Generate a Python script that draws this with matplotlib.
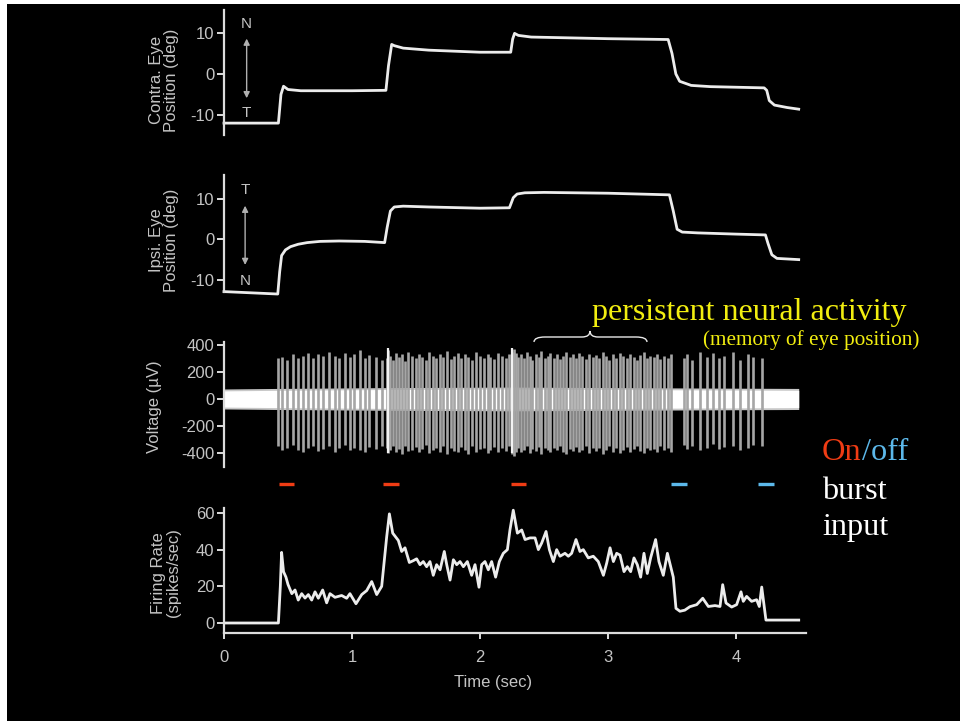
import matplotlib
matplotlib.use("Agg")
import matplotlib.pyplot as plt
from matplotlib.patches import Rectangle, PathPatch
from matplotlib.path import Path
from matplotlib.text import Annotation
from matplotlib.transforms import blended_transform_factory

plt.rcParams['font.family'] = ['Liberation Sans', 'DejaVu Sans']
plt.rcParams['axes.unicode_minus'] = False

# contralateral eye position (deg)
contra_t = [0, 0.425, 0.445, 0.465, 0.50, 0.60, 1.0, 1.265, 1.285, 1.31, 1.33, 1.40, 1.6, 2.0,
            2.24, 2.255, 2.27, 2.30, 2.40, 3.0, 3.47, 3.50, 3.53, 3.56, 3.65, 3.8, 4.22, 4.24,
            4.26, 4.30, 4.40, 4.49]
contra_deg = [-12.0, -12.0, -5.0, -3.0, -3.8, -4.1, -4.1, -4.0, 2.0, 7.2, 6.9, 6.3, 5.8, 5.3,
              5.3, 8.5, 9.9, 9.4, 9.0, 8.6, 8.4, 5.0, 0.0, -1.8, -2.8, -3.1, -3.4, -4.0,
              -6.5, -7.6, -8.2, -8.6]

# ipsilateral eye position (deg)
ipsi_t = [0, 0.42, 0.435, 0.45, 0.48, 0.52, 0.58, 0.65, 0.75, 0.9, 1.1, 1.255, 1.275, 1.30,
          1.33, 1.40, 1.6, 2.0, 2.23, 2.26, 2.29, 2.35, 2.5, 3.0, 3.48, 3.51, 3.54, 3.58,
          3.7, 4.0, 4.23, 4.25, 4.28, 4.32, 4.49]
ipsi_deg = [-12.9, -13.5, -8.0, -4.0, -2.6, -1.8, -1.2, -0.8, -0.5, -0.4, -0.5, -0.8, 3.0, 7.0,
            8.0, 8.2, 8.0, 7.7, 7.8, 10.3, 11.2, 11.5, 11.6, 11.4, 11.0, 7.0, 2.5, 1.8,
            1.6, 1.3, 1.1, -1.0, -3.8, -4.7, -5.0]

# extracellular recording: background noise band and spikes (uV)
noise_t = [0, 0.42, 1.27, 2.25, 3.5, 4.49]
noise_halfwidth = [60, 64, 70, 74, 68, 64]

spike_t = [0.424, 0.451, 0.490, 0.541, 0.580, 0.620, 0.659, 0.698, 0.737, 0.776, 0.823,
           0.867, 0.901, 0.945, 0.984, 1.016, 1.063, 1.102, 1.135, 1.188, 1.232,
           1.27, 1.285, 1.30, 1.32, 1.345, 1.37, 1.39, 1.415, 1.44, 1.47,
           1.50, 1.52, 1.55, 1.58, 1.60, 1.63, 1.66, 1.69, 1.71, 1.74,
           1.77, 1.80, 1.83, 1.85, 1.88, 1.91, 1.94, 1.97, 2.00, 2.03,
           2.06, 2.08, 2.11, 2.14, 2.17, 2.20, 2.23, 2.25, 2.265, 2.28,
           2.30, 2.32, 2.345, 2.37, 2.39, 2.41, 2.435, 2.46, 2.48, 2.505,
           2.53, 2.55, 2.575, 2.60, 2.625, 2.65, 2.67, 2.70, 2.725, 2.75,
           2.775, 2.80, 2.83, 2.855, 2.88, 2.905, 2.93, 2.96, 2.985, 3.01,
           3.04, 3.065, 3.09, 3.12, 3.145, 3.17, 3.20, 3.225, 3.25, 3.28,
           3.305, 3.33, 3.36, 3.385, 3.41, 3.44, 3.465, 3.49,
           3.59, 3.62, 3.66, 3.72, 3.77, 3.82, 3.87, 3.91, 3.98, 4.03, 4.09, 4.13, 4.20]
spike_up = [300, 310, 290, 330, 300, 320, 340, 305, 330, 315, 350, 320, 300, 340, 310, 330,
            360, 300, 325, 310, 290,
            300, 360, 320, 290, 340, 310, 330, 280, 350, 320,
            300, 335, 310, 290, 345, 320, 300, 330, 310, 355,
            295, 320, 340, 305, 330, 310, 290, 345, 320, 300,
            335, 310, 295, 340, 320, 305, 330, 350, 370, 340,
            310, 330, 300, 345, 320, 290, 335, 310, 355, 300,
            320, 340, 305, 330, 295, 315, 345, 310, 330, 300,
            340, 320, 295, 335, 310, 325, 300, 345, 315, 290,
            330, 305, 340, 320, 300, 335, 310, 290, 325, 345,
            300, 320, 310, 335, 295, 320, 305, 330,
            300, 330, 290, 350, 310, 340, 300, 320, 350, 290, 330, 310, 300]
spike_down = [-350, -380, -360, -340, -375, -390, -360, -345, -385, -370, -350, -395, -365,
              -340, -380, -360, -375, -390, -355, -370, -345,
              -360, -400, -380, -350, -390, -370, -410, -345, -385, -375,
              -355, -395, -370, -340, -400, -380, -360, -390, -350, -405,
              -365, -385, -395, -355, -375, -410, -345, -390, -370, -360,
              -400, -380, -355, -395, -365, -385, -350, -405, -420, -390,
              -360, -395, -375, -350, -400, -370, -385, -355, -410, -365,
              -380, -395, -360, -375, -345, -390, -405, -370, -385, -355,
              -395, -375, -350, -400, -365, -385, -360, -405, -375, -345,
              -390, -365, -400, -380, -355, -395, -370, -345, -385, -400,
              -360, -380, -370, -395, -350, -375, -365, -390,
              -340, -370, -350, -380, -360, -330, -370, -355, -345, -375, -360, -340, -350]
bright_spike_t = [1.28, 2.25]

# smoothed firing rate (spikes/sec)
rate_t = [0, 0.425, 0.44, 0.45, 0.465, 0.484, 0.50, 0.53, 0.555, 0.58, 0.607, 0.633, 0.659,
          0.685, 0.711, 0.737, 0.771, 0.802, 0.828, 0.867, 0.919, 0.958, 0.984, 1.031, 1.076,
          1.115, 1.154, 1.193, 1.232, 1.271, 1.292, 1.318, 1.34, 1.362, 1.388, 1.414, 1.448,
          1.479, 1.505, 1.531, 1.557, 1.583, 1.609, 1.635, 1.661, 1.688, 1.721, 1.740, 1.766,
          1.792, 1.818, 1.844, 1.870, 1.901, 1.935, 1.961, 1.992, 2.013, 2.039, 2.065, 2.091,
          2.122, 2.151, 2.182, 2.214, 2.234, 2.260, 2.292, 2.326, 2.352, 2.391, 2.43, 2.456,
          2.482, 2.516, 2.542, 2.573, 2.599, 2.625, 2.664, 2.69, 2.716, 2.750, 2.781, 2.807,
          2.846, 2.885, 2.924, 2.964, 2.990, 3.016, 3.042, 3.068, 3.094, 3.125, 3.151, 3.177,
          3.203, 3.229, 3.255, 3.281, 3.307, 3.333, 3.372, 3.398, 3.432, 3.464, 3.49, 3.51,
          3.531, 3.562, 3.60, 3.64, 3.693, 3.74, 3.784, 3.836, 3.875, 3.896, 3.922, 3.966,
          4.005, 4.039, 4.057, 4.083, 4.122, 4.161, 4.182, 4.201, 4.234, 4.49]
rate_hz = [0, 0, 20, 38.5, 28, 25, 21, 16, 18, 12.5, 16, 13.6, 15.5,
           12.5, 17, 13.5, 18, 11, 16, 14, 15, 13.5, 16, 10.5, 15.5,
           17.7, 22.6, 15.5, 20, 47, 59.5, 49, 47, 45, 39, 41, 33,
           34, 35, 31.8, 33.5, 30.7, 33.5, 26, 31.8, 29, 39, 31.8, 23.4,
           34.5, 31.8, 33.5, 30.7, 33.5, 26, 31.8, 19.5, 31.8, 33.5, 29, 33.5,
           25, 33.5, 38, 40, 50.7, 61.5, 49, 50.7, 45.5, 46.4, 46.4, 40,
           43.6, 49.9, 40, 33.5, 40, 36.4, 38, 36.4, 38, 45.5, 39, 40,
           35.5, 36.4, 33.5, 26, 32.7, 41, 33.5, 38, 37, 28, 30.7, 28,
           35.5, 31.8, 25, 38, 27, 35.5, 45.5, 33.5, 26, 38, 30.7, 25,
           8, 6.4, 7, 8.9, 10, 13.5, 9, 9.5, 9, 20.9, 10.9, 8.7,
           10, 17, 11.8, 14.5, 11.8, 12.7, 9, 19.6, 1.6, 1.6]

# burst input intervals (sec)
on_bursts = [(0.43, 0.55), (1.24, 1.37), (2.24, 2.36)]
off_bursts = [(3.49, 3.62), (4.17, 4.30)]

W, H = 960, 721
fig = plt.figure(figsize=(W / 100, H / 100), dpi=100, facecolor='white')
fig.patches.append(Rectangle((7 / W, 0), 1 - 7 / W, 1 - 4 / H, transform=fig.transFigure,
                             facecolor='black', edgecolor='none', zorder=-10))

fg = '#dcdcdc'
tick_col = '#c4c4c4'
trace_col = '#ececec'
x_left, x_right = 224, 806.4


def make_axes(top, bottom):
    ax = fig.add_axes([x_left / W, 1 - bottom / H, (x_right - x_left) / W, (bottom - top) / H])
    ax.set_facecolor('none')
    ax.set_xlim(0, 4.55)
    for side in ['top', 'right', 'bottom']:
        ax.spines[side].set_visible(False)
    ax.spines['left'].set_color(fg)
    ax.spines['left'].set_linewidth(1.6)
    ax.tick_params(axis='y', colors=fg, labelcolor=tick_col, labelsize=12, length=5,
                   width=1.4, pad=2)
    ax.tick_params(axis='x', bottom=False, labelbottom=False)
    return ax


def ylabel(text, cx, cy):
    fig.text(cx / W, 1 - cy / H, text, rotation=90, ha='center', va='center',
             multialignment='center', color=tick_col, fontsize=12, linespacing=1.05)


# contralateral eye
ax1 = make_axes(10, 135)
ax1.set_ylim(-14.9, 15.6)
ax1.set_yticks([-10, 0, 10])
ax1.plot(contra_t, contra_deg, color=trace_col, lw=2, clip_on=False)
ax1.annotate('', xy=(0.177, -6.6), xytext=(0.177, 9.3),
             arrowprops=dict(arrowstyle='<|-|>', color='#b0b0b0', lw=1, mutation_scale=9))
ax1.text(0.177, 12.3, 'N', ha='center', va='center', color=tick_col, fontsize=11)
ax1.text(0.177, -9.6, 'T', ha='center', va='center', color=tick_col, fontsize=11)
ylabel('Contra. Eye\nPosition (deg)', 164, 80)

# ipsilateral eye
ax2 = make_axes(175, 292)
ax2.set_ylim(-13.0, 15.9)
ax2.set_yticks([-10, 0, 10])
ax2.plot(ipsi_t, ipsi_deg, color=trace_col, lw=2, clip_on=False)
ax2.annotate('', xy=(0.165, -7.0), xytext=(0.165, 9.0),
             arrowprops=dict(arrowstyle='<|-|>', color='#b0b0b0', lw=1, mutation_scale=9))
ax2.text(0.165, 12.2, 'T', ha='center', va='center', color=tick_col, fontsize=11)
ax2.text(0.165, -10.2, 'N', ha='center', va='center', color=tick_col, fontsize=11)
ylabel('Ipsi. Eye\nPosition (deg)', 164, 240)

# voltage trace
ax3 = make_axes(342, 467)
ax3.set_ylim(-504, 422)
ax3.set_yticks([-400, -200, 0, 200, 400])
ax3.vlines(spike_t, spike_down, spike_up, color='#a6a6a6', lw=1.9)
ax3.vlines(bright_spike_t, -400, 380, color='#f2f2f2', lw=1.6)
ax3.fill_between(noise_t, [-h - 14 for h in noise_halfwidth], [h + 14 for h in noise_halfwidth],
                 color='#c8c8c8', lw=0)
ax3.fill_between(noise_t, [-h for h in noise_halfwidth], noise_halfwidth, color='white', lw=0)
ylabel('Voltage (\u00b5V)', 154, 407)

# firing rate
ax4 = make_axes(508, 633)
ax4.set_ylim(-5.45, 62.7)
ax4.set_yticks([0, 20, 40, 60])
ax4.spines['bottom'].set_visible(True)
ax4.spines['bottom'].set_color(fg)
ax4.spines['bottom'].set_linewidth(1.6)
ax4.set_xticks([0, 1, 2, 3, 4])
ax4.tick_params(axis='x', bottom=True, labelbottom=True, colors=fg, labelcolor=tick_col,
                labelsize=12, length=4, width=1.4, pad=8)
ax4.plot(rate_t, rate_hz, color=trace_col, lw=2)
ylabel('Firing Rate\n(spikes/sec)', 166, 573)
fig.text(493 / W, 1 - 682 / H, 'Time (sec)', ha='center', va='center', color=tick_col,
         fontsize=12)

# burst input markers above the rate panel
bar_tf = blended_transform_factory(ax4.transData, fig.transFigure)
for t0, t1 in on_bursts:
    ax4.plot([t0, t1], [1 - 484 / H] * 2, color='#f03c14', lw=2.4, transform=bar_tf,
             clip_on=False, solid_capstyle='butt')
for t0, t1 in off_bursts:
    ax4.plot([t0, t1], [1 - 484 / H] * 2, color='#5cb8ea', lw=2.4, transform=bar_tf,
             clip_on=False, solid_capstyle='butt')

# annotations
serif = ['Liberation Serif', 'DejaVu Serif']
yellow = '#f2ee10'
fig.text(592 / W, 1 - 320 / H, 'persistent neural activity', color=yellow, fontsize=23,
         family=serif, va='baseline')
fig.text(703 / W, 1 - 345 / H, '(memory of eye position)', color=yellow, fontsize=15.3,
         family=serif, va='baseline')

brace_px = [(534, 342), (534, 337), (545, 337), (582, 337), (590, 337), (590, 331),
            (590, 337), (598, 337), (636, 337), (647, 337), (647, 342)]
brace_codes = [Path.MOVETO, Path.CURVE3, Path.CURVE3, Path.LINETO, Path.CURVE3, Path.CURVE3,
               Path.CURVE3, Path.CURVE3, Path.LINETO, Path.CURVE3, Path.CURVE3]
brace = Path([(x / W, 1 - y / H) for x, y in brace_px], brace_codes)
fig.patches.append(PathPatch(brace, transform=fig.transFigure, facecolor='none',
                             edgecolor='#e8e8e8', lw=1))

on_txt = fig.text(822 / W, 1 - 460 / H, 'On', color='#f03c14', fontsize=23.3, family=serif,
                  va='baseline')
fig.add_artist(Annotation('/off', xy=(1, 0), xycoords=on_txt, color='#5cb8ea',
                          fontsize=23.3, family=serif, va='bottom', ha='left'))
fig.text(822 / W, 1 - 499 / H, 'burst', color='white', fontsize=23.3, family=serif,
         va='baseline')
fig.text(822 / W, 1 - 535 / H, 'input', color='white', fontsize=23.3, family=serif,
         va='baseline')

fig.savefig('out.png', dpi=100, facecolor=fig.get_facecolor())
